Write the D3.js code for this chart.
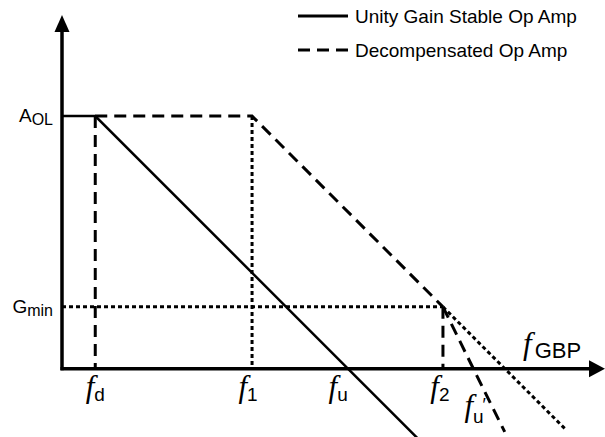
<!DOCTYPE html>
<html>
<head>
<meta charset="utf-8">
<script src="https://cdn.jsdelivr.net/npm/d3@7"></script>
<style>
  html, body { margin: 0; padding: 0; background: #fff; }
  svg { display: block; }
  .sans { font-family: "Liberation Sans", Arial, sans-serif; }
  .ital { font-family: "Liberation Serif", "Times New Roman", serif; font-style: italic; }
</style>
</head>
<body>
<div id="chart"></div>
<script>
/* Open-loop gain sketch: unity gain stable vs decompensated op amp, log-log axes. */

// frequencies in Hz, gains in dB
var fAxis = [2.2, 1.2e11];      // span of the frequency axis
var gainAxis = [-27, 140];      // span of the gain axis
var cornerNames = ["d", "1", "u", "2"];
var cornerFreqs = [10, 1.26e4, 1e6, 7.5e7];
var gainNames = ["OL", "min"];
var gainValues = [100, 24.5];
var fuPrime = 3e8;

var unityGain = [[2.2, 100], [10, 100], [1e6, 0], [2.5e7, -28]];
var decomp = [[10, 100], [1.26e4, 100], [7.5e7, 24.5]];
var decompTail = [[7.5e7, 24.5], [1.26e9, 0], [2e10, -24]];    // -20 dB/dec
var decompSteep = [[7.5e7, 24.5], [3e8, 0], [1.25e9, -25]];    // -40 dB/dec
var dashedGuides = [[[10, 100], [10, 0]], [[7.5e7, 24.5], [7.5e7, 0]]];
var dottedGuides = [[[1.26e4, 100], [1.26e4, 0]], [[2.2, 24.5], [7.5e7, 24.5]]];
var legendNames = ["Unity Gain Stable Op Amp", "Decompensated Op Amp"];

var W = 605, H = 437;
var svg = d3.select("#chart").append("svg").attr("width", W).attr("height", H);

var x = d3.scaleLog().domain(fAxis).range([62, W]);
var y = d3.scaleLinear().domain(gainAxis).range([H, 15]);

var line = d3.line()
  .x(function (d) { return x(d[0]); })
  .y(function (d) { return y(d[1]); });

var DASH = "12,7", DOT = "4,3";

function draw(pts, width, dash) {
  svg.append("path").datum(pts)
    .attr("d", line)
    .attr("fill", "none")
    .attr("stroke", "#000")
    .attr("stroke-width", width)
    .attr("stroke-dasharray", dash || null);
}

dashedGuides.forEach(function (g) { draw(g, 3, DASH); });
dottedGuides.forEach(function (g) { draw(g, 3, DOT); });
draw(decomp, 3, DASH);
draw(decompTail, 3, DOT);
draw(decompSteep, 3, DASH);
draw(unityGain, 2.5, null);

// axes with arrowheads
var x0 = x(fAxis[0]), y0 = y(0), xEnd = x(fAxis[1]), yTop = y(gainAxis[1]);
svg.append("line").attr("x1", x0).attr("y1", y0 + 1.5).attr("x2", x0).attr("y2", yTop + 15)
  .attr("stroke", "#000").attr("stroke-width", 3.5);
svg.append("line").attr("x1", x0 - 1.5).attr("y1", y0).attr("x2", xEnd - 14).attr("y2", y0)
  .attr("stroke", "#000").attr("stroke-width", 3.5);
svg.append("path")
  .attr("d", "M" + x0 + "," + yTop + "L" + (x0 + 7.5) + "," + (yTop + 17) + "L" + (x0 - 7.5) + "," + (yTop + 17) + "Z");
svg.append("path")
  .attr("d", "M" + xEnd + "," + y0 + "L" + (xEnd - 16) + "," + (y0 + 8.5) + "L" + (xEnd - 16) + "," + (y0 - 8.5) + "Z");

// frequency labels
var labelShift = { d: 0, "1": -4, u: -10, "2": -3 };
cornerNames.forEach(function (n, i) {
  var t = svg.append("text")
    .attr("x", x(cornerFreqs[i]) + labelShift[n])
    .attr("y", 397)
    .attr("text-anchor", "middle");
  t.append("tspan").attr("class", "ital").attr("font-size", 31).text("f");
  t.append("tspan").attr("class", "sans").attr("font-size", 19).attr("dy", 4).text(n);
});

var tp = svg.append("text").attr("x", x(fuPrime) - 9).attr("y", 416);
tp.append("tspan").attr("class", "ital").attr("font-size", 31).text("f");
tp.append("tspan").attr("class", "sans").attr("font-size", 19).attr("dy", 7).text("u");
tp.append("tspan").attr("class", "sans").attr("font-size", 18).attr("dx", -1).attr("dy", -12).text("\u2032");

var tg = svg.append("text").attr("x", 523).attr("y", 354);
tg.append("tspan").attr("class", "ital").attr("font-size", 31).text("f");
tg.append("tspan").attr("class", "sans").attr("font-size", 22).attr("dx", 3).attr("dy", 4).text("GBP");

// gain labels
var gainLetters = ["A", "G"];
gainNames.forEach(function (n, i) {
  var t = svg.append("text").attr("class", "sans")
    .attr("x", 53).attr("y", y(gainValues[i]) + 6)
    .attr("text-anchor", "end");
  t.append("tspan").attr("font-size", 19).text(gainLetters[i]);
  t.append("tspan").attr("font-size", 16).attr("dy", 3).text(n);
});

// legend
legendNames.forEach(function (name, i) {
  var ly = 16 + i * 34;
  svg.append("line").attr("x1", 298).attr("x2", 348).attr("y1", ly).attr("y2", ly)
    .attr("stroke", "#000").attr("stroke-width", 3)
    .attr("stroke-dasharray", i ? "12,7" : null);
  svg.append("text").attr("class", "sans").attr("font-size", 19)
    .attr("x", 355).attr("y", ly + 7).text(name);
});
</script>
</body>
</html>
